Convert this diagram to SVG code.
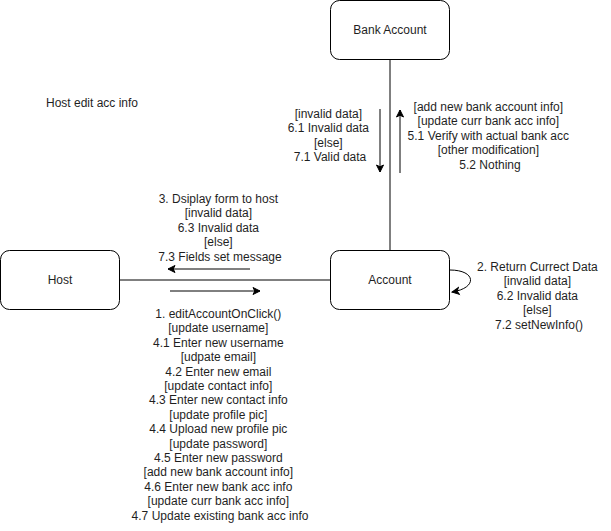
<svg xmlns="http://www.w3.org/2000/svg" width="611" height="531" viewBox="0 0 611 531">
  <style>
    .node { fill: #ffffff; stroke: #000000; stroke-width: 1; }
    .edge { fill: none; stroke: #000000; stroke-width: 1; }
    .msg { fill: none; stroke: #000000; stroke-width: 1; }
    text { font-family: "Liberation Sans", Arial, Helvetica, sans-serif; font-size: 12px; fill: #1f1f1f; }
    .c { text-anchor: middle; }
  </style>
  <defs>
    <marker id="arrow" markerWidth="10" markerHeight="10" refX="8" refY="5" orient="auto" markerUnits="userSpaceOnUse">
      <path d="M1,1.5 L8,5 L1,8.5 L2.8,5 Z" fill="#000000" stroke="#000000" stroke-width="1"/>
    </marker>
  </defs>
  <rect width="611" height="531" fill="#ffffff"/>

  <!-- connectors -->
  <g id="connectors">
    <line class="edge" x1="120" y1="280" x2="330" y2="280"/>
    <line class="edge" x1="390" y1="60" x2="390" y2="250"/>
    <path class="edge" d="M450,270 C476,270 478,288 452,292" marker-end="url(#arrow)"/>
    <!-- message arrows -->
    <line class="msg" x1="250" y1="269" x2="168" y2="269" marker-end="url(#arrow)"/>
    <line class="msg" x1="170" y1="291" x2="260" y2="291" marker-end="url(#arrow)"/>
    <line class="msg" x1="380" y1="109" x2="380" y2="172" marker-end="url(#arrow)"/>
    <line class="msg" x1="400" y1="173" x2="400" y2="110" marker-end="url(#arrow)"/>
  </g>

  <g id="bank-account">
    <rect class="node" x="330.5" y="0.5" width="119" height="59" rx="9" ry="9"/>
    <text class="c" x="390" y="34">Bank Account</text>
  </g>

  <g id="host">
    <rect class="node" x="0.5" y="250.5" width="119" height="59" rx="9" ry="9"/>
    <text class="c" x="60" y="284">Host</text>
  </g>

  <g id="account">
    <rect class="node" x="330.5" y="250.5" width="119" height="59" rx="9" ry="9"/>
    <text class="c" x="390" y="284">Account</text>
  </g>

  <g id="title">
    <text x="46" y="107">Host edit acc info</text>
  </g>

  <g id="labels">
    <text class="c">
      <tspan x="330" y="118">[invalid data]</tspan>
      <tspan x="330" y="132.4">6.1 Invalid data</tspan>
      <tspan x="330" y="146.8">[else]</tspan>
      <tspan x="330" y="161.2">7.1 Valid data</tspan>
    </text>
    <text class="c">
      <tspan x="490" y="111">[add new bank account info]</tspan>
      <tspan x="490" y="125.4">[update curr bank acc info]</tspan>
      <tspan x="490" y="139.8">5.1 Verify with actual bank acc</tspan>
      <tspan x="490" y="154.2">[other modification]</tspan>
      <tspan x="490" y="168.6">5.2 Nothing</tspan>
    </text>
    <text class="c">
      <tspan x="220" y="203">3. Dsiplay form to host</tspan>
      <tspan x="220" y="217.4">[invalid data]</tspan>
      <tspan x="220" y="231.8">6.3 Invalid data</tspan>
      <tspan x="220" y="246.2">[else]</tspan>
      <tspan x="220" y="260.6">7.3 Fields set message</tspan>
    </text>
    <text class="c">
      <tspan x="539" y="271">2. Return Currect Data</tspan>
      <tspan x="539" y="285.4">[invalid data]</tspan>
      <tspan x="539" y="299.8">6.2 Invalid data</tspan>
      <tspan x="539" y="314.2">[else]</tspan>
      <tspan x="539" y="328.6">7.2 setNewInfo()</tspan>
    </text>
    <text class="c">
      <tspan x="220" y="318">1. editAccountOnClick()</tspan>
      <tspan x="220" y="332.4">[update username]</tspan>
      <tspan x="220" y="346.8">4.1 Enter new username</tspan>
      <tspan x="220" y="361.2">[udpate email]</tspan>
      <tspan x="220" y="375.6">4.2 Enter new email</tspan>
      <tspan x="220" y="390">[update contact info]</tspan>
      <tspan x="220" y="404.4">4.3 Enter new contact info</tspan>
      <tspan x="220" y="418.8">[update profile pic]</tspan>
      <tspan x="220" y="433.2">4.4 Upload new profile pic</tspan>
      <tspan x="220" y="447.6">[update password]</tspan>
      <tspan x="220" y="462">4.5 Enter new password</tspan>
      <tspan x="220" y="476.4">[add new bank account info]</tspan>
      <tspan x="220" y="490.8">4.6 Enter new bank acc info</tspan>
      <tspan x="220" y="505.2">[update curr bank acc info]</tspan>
      <tspan x="220" y="519.6">4.7 Update existing bank acc info</tspan>
    </text>
  </g>
</svg>
